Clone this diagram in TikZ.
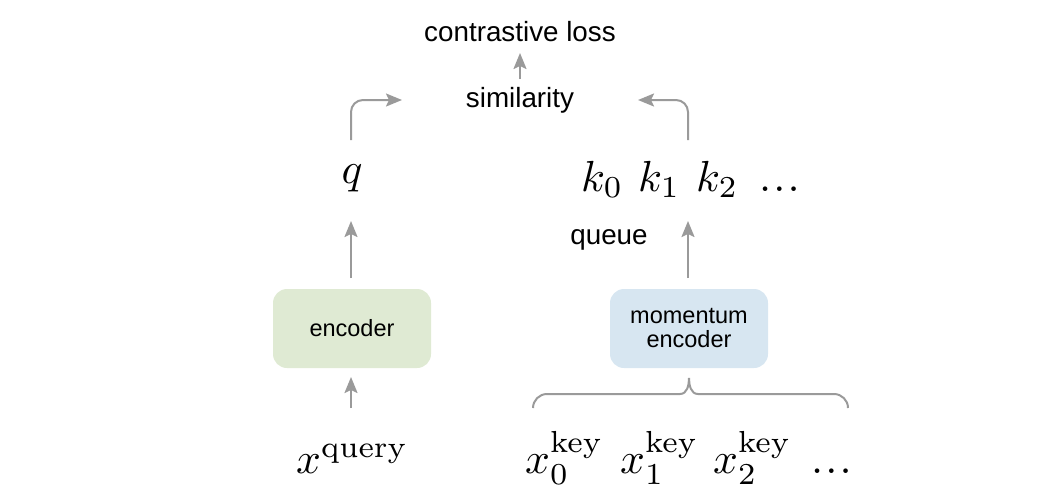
\documentclass[tikz,border=0pt]{standalone}
\usepackage[no-math]{fontspec}
\setmainfont{Liberation Sans}
\usetikzlibrary{arrows.meta}
\definecolor{arr}{HTML}{9A9A9A}
\definecolor{encg}{HTML}{DFEAD3}
\definecolor{encb}{HTML}{D7E6F1}
\newcommand{\mybigmath}[1]{\scalebox{4.35}{$#1$}}
\newcommand{\mydotsx}{.\kern.5pt.\kern.5pt.}
\tikzset{
  lbl/.style={inner sep=0pt, font=\fontsize{27.8}{30}\selectfont},
  mth/.style={inner sep=0pt, anchor=base west},
  encbox/.style={rounded corners=14pt, minimum width=158pt, minimum height=79pt, align=center, inner sep=0pt, font=\fontsize{23.5}{28}\selectfont},
  conn/.style={draw=arr, line width=2pt, -{Stealth[length=16pt,width=13pt,inset=3pt]}},
  brc/.style={draw=arr, line width=2pt}
}
\begin{document}
\begin{tikzpicture}[x=1pt,y=-1pt]
\useasboundingbox (0,0) rectangle (1051,498);
\node[lbl] (loss) at (520,32) {contrastive loss};
\node[lbl] (sim) at (520,100) {similarity};
\node[mth, anchor=base] (q) at (352,183) {\mybigmath{q}};
\node[mth] (k0) at (581,191) {\mybigmath{k_0}};
\node[mth] (k1) at (638,191) {\mybigmath{k_1}};
\node[mth] (k2) at (696,191) {\mybigmath{k_2}};
\node[mth] (kd) at (759,191) {\mybigmath{\mydotsx}};
\node[lbl] (queue) at (609,240) {queue};
\node[encbox, fill=encg] (enc) at (352,328.5) {encoder};
\node[encbox, fill=encb] (menc) at (689,328.5) {momentum\\[-4pt]encoder};
\node[mth] (xq) at (296,473) {\mybigmath{x^{\mathrm{query}}}};
\node[mth] (x0) at (525,473) {\mybigmath{x_0^{\mathrm{key}}}};
\node[mth] (x1) at (620,473) {\mybigmath{x_1^{\mathrm{key}}}};
\node[mth] (x2) at (713,473) {\mybigmath{x_2^{\mathrm{key}}}};
\node[mth] (xd) at (811,473) {\mybigmath{\mydotsx}};
\coordinate (lstart) at (351,140);
\coordinate (lend) at (402,100);
\coordinate (rstart) at (688,140);
\coordinate (rend) at (638,100);
\coordinate (sbot) at (520,79);
\coordinate (stop) at (520,53);
\coordinate (qa) at (351,278);
\coordinate (qb) at (351,221);
\coordinate (ka) at (688,278);
\coordinate (kb) at (688,221);
\coordinate (ea) at (351,408);
\coordinate (eb) at (351,377);
\coordinate (tip) at (689,378);
\draw[conn, rounded corners=12pt] (lstart) |- (lend);
\draw[conn, rounded corners=12pt] (rstart) |- (rend);
\draw[conn] (sbot) -- (stop);
\draw[conn] (qa) -- (qb);
\draw[conn] (ka) -- (kb);
\draw[conn] (ea) -- (eb);
\draw[brc] (533,408) to[out=90,in=180] (547,394) -- (680,394) to[out=0,in=-90] (tip) to[out=-90,in=180] (698,394) -- (834,394) to[out=0,in=90] (848,408);
\end{tikzpicture}
\end{document}
